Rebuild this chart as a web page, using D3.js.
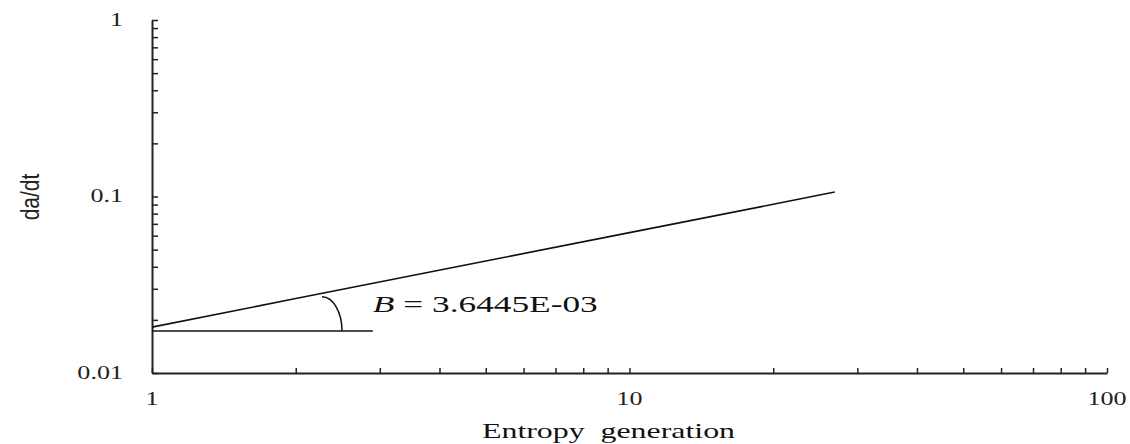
<!DOCTYPE html>
<meta charset="utf-8">
<script src="https://d3js.org/d3.v7.min.js"></script>
<style>
  body { margin: 0; background: #fff; }
  .axis .domain { stroke: #222; stroke-width: 2px; }
  .axis line { stroke: #222; stroke-width: 1.5px; }
</style>
<body>
<svg width="1130" height="444"></svg>
<script>
// data
var lineX = [1, 2, 5, 10, 20, 26.9];
var lineY = [0.0182, 0.0264, 0.0431, 0.0624, 0.0904, 0.106];
var baseX = [1, 2.9];
var baseY = [0.0173, 0.0173];
var arcFrom = [2.27, 0.0270];
var arcTo = [2.5, 0.0173];
var xTickLabels = [1, 10, 100];
var yTickLabels = [0.01, 0.1, 1];
var slopeText = "3.6445E-03";

var svg = d3.select("svg");
var serif = "'Liberation Serif', 'Times New Roman', serif";

var x = d3.scaleLog().domain([1, 100]).range([152, 1107]);
var y = d3.scaleLog().domain([0.01, 1]).range([373, 20]);

function minors(lo, hi) {
  var out = [];
  for (var d = lo; d < hi; d *= 10)
    for (var k = 1; k <= 10; k++) out.push(+(d * k).toPrecision(3));
  return Array.from(new Set(out));
}

// x axis, ticks pointing up
var xAxis = svg.append("g")
    .attr("class", "axis")
    .attr("transform", "translate(0,373)")
    .call(d3.axisBottom(x).tickValues(minors(1, 100)).tickSize(-5).tickSizeOuter(0).tickFormat(""));
xAxis.selectAll("text").remove();

svg.append("g").selectAll("text")
  .data(xTickLabels)
  .enter().append("text")
    .attr("font-family", serif)
    .attr("font-size", 18)
    .attr("fill", "#222")
    .attr("text-anchor", "middle")
    .attr("transform", function(d) { return "translate(" + x(d) + ",405) scale(1.45,1)"; })
    .text(function(d) { return d; });

// y axis, ticks pointing right
var yAxis = svg.append("g")
    .attr("class", "axis")
    .attr("transform", "translate(152,0)")
    .call(d3.axisLeft(y).tickValues(minors(0.01, 1)).tickSize(-6).tickSizeOuter(0).tickFormat(""));
yAxis.selectAll("text").remove();

svg.append("g").selectAll("text")
  .data(yTickLabels)
  .enter().append("text")
    .attr("font-family", serif)
    .attr("font-size", 18)
    .attr("fill", "#222")
    .attr("text-anchor", "end")
    .attr("dy", "0.32em")
    .attr("transform", function(d) { return "translate(123," + y(d) + ") scale(1.45,1)"; })
    .text(function(d) { return d; });

// fitted line
var line = d3.line()
    .x(function(d) { return x(d[0]); })
    .y(function(d) { return y(d[1]); });

svg.append("path")
    .datum(d3.zip(lineX, lineY))
    .attr("d", line)
    .attr("fill", "none")
    .attr("stroke", "#111")
    .attr("stroke-width", 1.6);

// horizontal reference
svg.append("path")
    .datum(d3.zip(baseX, baseY))
    .attr("d", line)
    .attr("fill", "none")
    .attr("stroke", "#111")
    .attr("stroke-width", 1.6);

// angle arc (quarter ellipse)
var ax0 = x(arcFrom[0]), ay0 = y(arcFrom[1]), ax1 = x(arcTo[0]), ay1 = y(arcTo[1]);
svg.append("path")
    .attr("d", "M" + ax0 + "," + ay0 + " A" + (ax1 - ax0) + "," + (ay1 - ay0) + " 0 0 1 " + ax1 + "," + ay1)
    .attr("fill", "none")
    .attr("stroke", "#111")
    .attr("stroke-width", 1.5);

// annotation
var note = svg.append("text")
    .attr("font-family", serif)
    .attr("font-size", 23)
    .attr("fill", "#111")
    .attr("x", x(2.9))
    .attr("y", 312)
    .attr("textLength", 225)
    .attr("lengthAdjust", "spacingAndGlyphs");
note.append("tspan").attr("font-style", "italic").text("B");
note.append("tspan").text(" = " + slopeText);

// axis titles
svg.append("text")
    .attr("font-family", serif)
    .attr("font-size", 22)
    .attr("fill", "#111")
    .attr("x", 482)
    .attr("y", 438)
    .attr("textLength", 253)
    .attr("lengthAdjust", "spacingAndGlyphs")
    .style("white-space", "pre")
    .text("Entropy  generation");

svg.append("text")
    .attr("font-family", "'Liberation Sans', Arial, sans-serif")
    .attr("font-size", 21)
    .attr("fill", "#222")
    .attr("text-anchor", "middle")
    .attr("transform", "translate(39,197) scale(1.25,1) rotate(-90)")
    .text("da/dt");
</script>
</body>
